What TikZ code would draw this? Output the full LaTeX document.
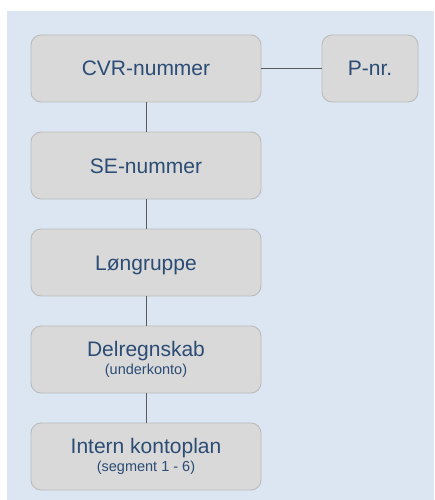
\documentclass[tikz,border=0pt]{standalone}
\usepackage{fontspec}
\setmainfont{Liberation Sans}
\definecolor{bgblue}{HTML}{DCE6F2}
\definecolor{boxfill}{HTML}{D9D9D9}
\definecolor{boxline}{HTML}{BBBBBB}
\definecolor{txtblue}{HTML}{2B4C74}
\definecolor{conn}{HTML}{5A5A5A}
\tikzset{
  box/.style={draw=boxline, line width=0.9pt, fill=boxfill, rounded corners=10pt,
    minimum width=230pt, minimum height=67pt, inner sep=0pt, text=txtblue,
    align=center, font=\fontsize{21}{18.5}\selectfont},
  oneline/.style={text height=15pt, text depth=0pt},
  twoline/.style={text depth=22pt},
  link/.style={draw=conn, line width=0.8pt}
}
\newcommand{\subtxt}[1]{{\fontsize{14.5}{18.5}\selectfont #1}}
\begin{document}
\begin{tikzpicture}[x=1pt,y=-1pt]
\useasboundingbox (0,0) rectangle (434,500);
\fill[bgblue] (7,11) rectangle (434,500);
\node[box,oneline] (cvr) at (146,68.5) {CVR-nummer};
\node[box,oneline,minimum width=96pt] (pnr) at (370,68.5) {P-nr.};
\node[box,oneline] (se) at (146,165.5) {SE-nummer};
\node[box,oneline] (lon) at (146,262.5) {Løngruppe};
\node[box] (del) at (146,359.5) {Delregnskab\\\subtxt{(underkonto)}};
\node[box] (int) at (146,456.5) {Intern kontoplan\\\subtxt{(segment 1 - 6)}};
\draw[link] (cvr) -- (pnr);
\draw[link] (cvr) -- (se);
\draw[link] (se) -- (lon);
\draw[link] (lon) -- (del);
\draw[link] (del) -- (int);
\end{tikzpicture}
\end{document}
